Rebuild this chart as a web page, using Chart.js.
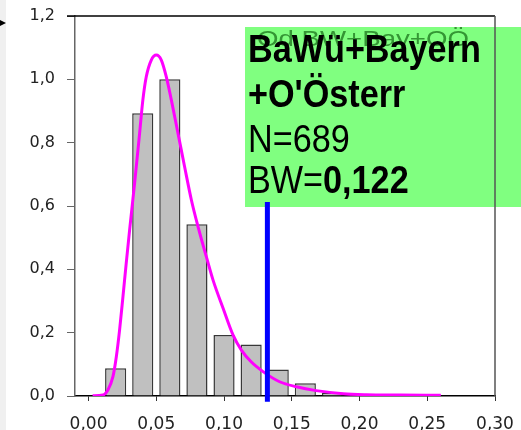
<!DOCTYPE html>
<html>
<head>
<meta charset="utf-8">
<script src="https://cdn.jsdelivr.net/npm/chart.js@4.4.1/dist/chart.umd.min.js"></script>
<style>
  html, body { margin: 0; padding: 0; background: #fff; }
  #wrap { position: relative; width: 521px; height: 430px; }
</style>
</head>
<body>
<div id="wrap"><canvas id="dist"></canvas></div>
<script>
/* Histogramm (Klassenbreite 0,02) + Kerndichte, normiert auf max = 1 */
const binCenters = [0.02, 0.04, 0.06, 0.08, 0.10, 0.12, 0.14, 0.16, 0.18];
const binHeights = [0.088, 0.893, 1.0, 0.542, 0.193, 0.163, 0.084, 0.040, 0.010];

/* Dichtekurve (magenta) */
const kdeX = [0.003, 0.0106, 0.0143, 0.018, 0.0205, 0.0229, 0.0254, 0.0278, 0.0303, 0.034,
              0.0377, 0.0401, 0.0426, 0.0463, 0.050, 0.0537, 0.0574, 0.0611, 0.066, 0.0709,
              0.0759, 0.0808, 0.0872, 0.0919, 0.0993, 0.1066, 0.1128, 0.120, 0.1288, 0.141,
              0.1535, 0.168, 0.188, 0.205, 0.23, 0.26];
const kdeY = [0.001, 0.003, 0.019, 0.061, 0.124, 0.208, 0.314, 0.419, 0.524, 0.672,
              0.83, 0.935, 1.008, 1.061, 1.077, 1.061, 1.008, 0.935, 0.83, 0.724,
              0.619, 0.535, 0.436, 0.366, 0.277, 0.193, 0.145, 0.108, 0.077, 0.045,
              0.029, 0.017, 0.007, 0.004, 0.003, 0.002];

/* Markierung (blaue Linie) */
const markerX = 0.132;
const markerTop = 0.613;

/* Achsen */
const xTicks = [0.00, 0.05, 0.10, 0.15, 0.20, 0.25, 0.30];
const yTicks = [0.0, 0.2, 0.4, 0.6, 0.8, 1.0, 1.2];

/* Legendenkasten */
const ghostLabel = 'Od BW+Bay+OÖ';
const boxLines = [
  [['BaWü+Bayern', true]],
  [["+O'Österr", true]],
  [['N=689', false]],
  [['BW=', false], ['0,122', true]],
];

const comma = (v, d) => v.toFixed(d).replace('.', ',');

/* Hintergrundstreifen links, Kasten, Rahmen oben/rechts */
const decor = {
  id: 'decor',
  beforeDraw(chart) {
    const ctx = chart.ctx;
    ctx.save();
    ctx.fillStyle = '#f0f0f0';
    ctx.fillRect(0, 0, 6, chart.height);
    ctx.fillStyle = '#000';
    ctx.beginPath();
    ctx.moveTo(0, 20); ctx.lineTo(6, 23); ctx.lineTo(0, 26);
    ctx.closePath(); ctx.fill();
    ctx.restore();
  },
  beforeDatasetsDraw(chart) {
    const ctx = chart.ctx;
    ctx.save();
    ctx.fillStyle = '#80ff80';
    ctx.fillRect(245, 27, chart.width - 245, 180);

    // verblasster Titel im Hintergrund
    ctx.font = '22px "Liberation Sans", Arial, sans-serif';
    ctx.fillStyle = '#349634';
    ctx.textBaseline = 'alphabetic';
    const gw = ctx.measureText(ghostLabel).width;
    ctx.save();
    ctx.translate(257, 46);
    ctx.scale(212 / gw, 1);
    ctx.fillText(ghostLabel, 0, 0);
    ctx.restore();

    // schmal gesetzter Text
    const baselines = [62, 107, 152, 193];
    ctx.fillStyle = '#000';
    boxLines.forEach((parts, i) => {
      ctx.save();
      ctx.translate(248, baselines[i]);
      ctx.scale(0.9, 1.02);
      let x = 0;
      parts.forEach(([txt, bold]) => {
        ctx.font = (bold ? 'bold ' : '') + '38px "Liberation Sans", Arial, sans-serif';
        ctx.fillText(txt, x, 0);
        x += ctx.measureText(txt).width;
      });
      ctx.restore();
    });
    ctx.restore();
  },
  afterDraw(chart) {
    const { ctx, chartArea: a } = chart;
    ctx.save();
    ctx.lineWidth = 1.5;
    ctx.strokeStyle = '#000';
    ctx.beginPath();
    ctx.moveTo(67, a.top); ctx.lineTo(a.right, a.top);
    ctx.stroke();
    ctx.strokeStyle = '#555';
    ctx.beginPath();
    ctx.moveTo(a.right, a.top); ctx.lineTo(a.right, a.bottom);
    ctx.stroke();
    ctx.restore();
  }
};

/* feste Achsenmaße, Label-Überstand nicht einrechnen */
function fixX(s) {
  s.height = 34;
  s.paddingLeft = s.paddingRight = 0;
}
function fixY(s) {
  s.width = 75;
  s.paddingTop = s.paddingBottom = 0;
}

new Chart(document.getElementById('dist'), {
  data: {
    datasets: [
      {
        type: 'line',
        data: [{ x: markerX, y: -0.018 }, { x: markerX, y: markerTop }],
        borderColor: '#0000ff',
        borderWidth: 5,
        pointRadius: 0,
        clip: false,
        order: 0,
      },
      {
        type: 'line',
        data: kdeX.map((x, i) => ({ x, y: kdeY[i] })),
        borderColor: '#ff00ff',
        borderWidth: 3,
        pointRadius: 0,
        cubicInterpolationMode: 'monotone',
        order: 1,
      },
      {
        type: 'bar',
        data: binCenters.map((x, i) => ({ x, y: binHeights[i] })),
        backgroundColor: '#c0c0c0',
        borderColor: '#383838',
        borderWidth: 1.5,
        categoryPercentage: 1,
        barPercentage: 0.78,
        order: 2,
      },
    ],
  },
  options: {
    responsive: true,
    maintainAspectRatio: false,
    animation: false,
    layout: { padding: { top: 16, right: 26, left: 0, bottom: 0 } },
    plugins: { legend: { display: false }, tooltip: { enabled: false } },
    scales: {
      x: {
        type: 'linear',
        offset: false,
        min: -0.01,
        max: 0.30,
        afterBuildTicks: (s) => { s.ticks = xTicks.map(v => ({ value: v })); },
        afterFit: fixX,
        grid: { drawOnChartArea: false, tickLength: 5, color: '#333', offset: false },
        border: { color: '#000', width: 1.5 },
        ticks: {
          padding: 13,
          color: '#222',
          font: { family: '"DejaVu Sans", sans-serif', size: 17 },
          callback: (v) => comma(v, 2),
          maxRotation: 0,
        },
      },
      y: {
        min: 0,
        max: 1.2,
        afterBuildTicks: (s) => { s.ticks = yTicks.map(v => ({ value: v })); },
        afterFit: fixY,
        grid: { drawOnChartArea: false, tickLength: 8, color: '#666' },
        border: { color: '#666', width: 1.5 },
        ticks: {
          padding: 12,
          color: '#222',
          font: { family: '"DejaVu Sans", sans-serif', size: 16 },
          callback: (v) => comma(v, 1),
        },
      },
    },
  },
  plugins: [decor],
});
</script>
</body>
</html>
